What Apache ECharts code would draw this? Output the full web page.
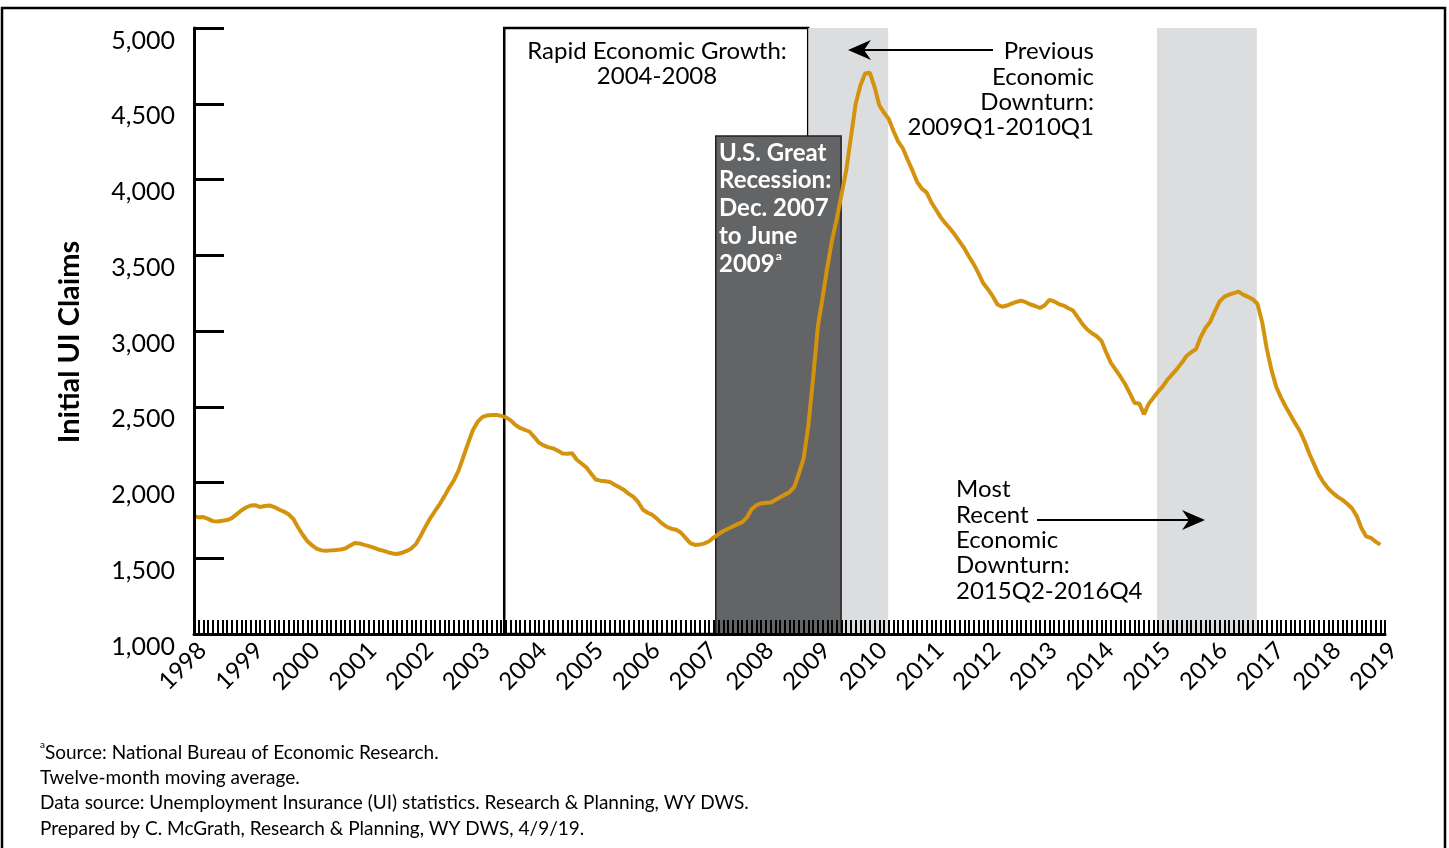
<!DOCTYPE html>
<html>
<head>
<meta charset="utf-8">
<script src="https://cdn.jsdelivr.net/npm/echarts@6/dist/echarts.min.js"></script>
<style>html,body{margin:0;padding:0;background:#fff;}#c{width:1449px;height:848px;}</style>
</head>
<body>
<div id="c"></div>
<script>
// ---- data ----
const startYear = 1998;
const endYear = 2019;
const yTicks = [1000, 1500, 2000, 2500, 3000, 3500, 4000, 4500, 5000];
// Twelve-month moving average of initial UI claims, monthly from Jan 1998
const claims = [
  1775,1770,1772,1760,1745,1742,1748,1752,1765,1790,1815,1835,
  1848,1850,1838,1845,1848,1838,1822,1808,1790,1760,1705,1655,
  1612,1585,1562,1552,1550,1552,1554,1558,1564,1582,1600,1598,
  1588,1580,1570,1558,1550,1540,1532,1528,1536,1548,1565,1595,
  1650,1710,1765,1812,1858,1910,1965,2015,2080,2170,2260,2345,
  2400,2432,2443,2445,2446,2440,2430,2410,2380,2360,2348,2335,
  2300,2262,2245,2232,2225,2210,2192,2190,2193,2150,2125,2100,
  2060,2020,2012,2008,2004,1985,1968,1950,1925,1905,1870,1820,
  1800,1786,1760,1730,1708,1695,1688,1670,1635,1600,1588,1590,
  1598,1612,1638,1660,1680,1695,1710,1725,1738,1770,1825,1850,
  1862,1866,1868,1885,1903,1920,1936,1970,2060,2160,2380,2690,
  3030,3220,3420,3600,3740,3900,4060,4280,4500,4620,4700,4705,
  4610,4490,4440,4400,4320,4250,4205,4130,4060,3985,3940,3915,
  3850,3800,3750,3710,3675,3635,3590,3545,3490,3440,3380,3315,
  3275,3230,3175,3160,3168,3180,3192,3200,3190,3175,3165,3152,
  3170,3205,3195,3178,3168,3150,3135,3090,3045,3010,2985,2965,
  2935,2860,2790,2745,2700,2650,2590,2525,2522,2450,2520,2560,
  2600,2635,2680,2715,2750,2790,2835,2860,2880,2960,3020,3060,
  3130,3195,3225,3240,3250,3260,3240,3225,3210,3180,3060,2880,
  2740,2630,2560,2500,2445,2390,2340,2270,2190,2120,2050,2000,
  1960,1930,1905,1885,1860,1830,1780,1700,1645,1635,1610,1590
];
// shaded periods as drawn (fractional years)
const growthBox = [2003.47, 2008.83, 5000];
const recessionBox = [2007.2, 2009.41, 4287];
const prevDownturn = [2008.83, 2010.24];
const recentDownturn = [2014.98, 2016.74];

const seriesData = claims.map((v, i) => [startYear + i / 12, v]);

const FONT = 'Lato';
const chart = echarts.init(document.getElementById('c'), null, {renderer: 'canvas'});
const option = {
  backgroundColor: '#fff',
  animation: false,
  grid: {left: 194, right: 64, top: 28, bottom: 214, containLabel: false},
  xAxis: {
    type: 'value', min: startYear, max: endYear, interval: 1, z: 10,
    axisLine: {show: true, lineStyle: {color: '#000', width: 3}},
    axisTick: {show: true, inside: true, length: 14, lineStyle: {color: '#000', width: 2}},
    minorTick: {show: true, splitNumber: 12, length: 14, lineStyle: {color: '#000', width: 2}},
    splitLine: {show: false},
    axisLabel: {rotate: 45, fontSize: 24, color: '#000', fontFamily: FONT, margin: 4,
      verticalAlign: 'top',
      formatter: v => String(v)}
  },
  yAxis: {
    type: 'value', min: yTicks[0], max: yTicks[yTicks.length - 1], interval: 500, z: 10,
    axisLine: {show: true, lineStyle: {color: '#000', width: 3}},
    axisTick: {show: true, inside: true, length: 30, lineStyle: {color: '#000', width: 3}},
    splitLine: {show: false},
    axisLabel: {fontSize: 25, color: '#000', fontFamily: FONT, margin: 19,
      verticalAlign: 'top',
      formatter: v => v.toLocaleString('en-US')}
  },
  series: [
    {
      type: 'line', data: [], z: 1, silent: true,
      markArea: {
        silent: true,
        data: [
          [{xAxis: growthBox[0], yAxis: 1000, itemStyle: {color: '#fff', borderColor: '#000', borderWidth: 2.5}},
           {xAxis: growthBox[1], yAxis: growthBox[2]}],
          [{xAxis: prevDownturn[0], yAxis: 1000, itemStyle: {color: '#dcddde'}},
           {xAxis: prevDownturn[1], yAxis: 5000}],
          [{xAxis: recentDownturn[0], yAxis: 1000, itemStyle: {color: '#dcddde'}},
           {xAxis: recentDownturn[1], yAxis: 5000}],
          [{xAxis: recessionBox[0], yAxis: 1000, itemStyle: {color: '#636466', borderColor: '#231f20', borderWidth: 1.5}},
           {xAxis: recessionBox[1], yAxis: recessionBox[2]}]
        ]
      }
    },
    {
      type: 'line', data: seriesData, z: 5, showSymbol: false, symbol: 'none',
      lineStyle: {color: '#d4930f', width: 4}
    }
  ],
  graphic: [
    {type: 'rect', shape: {x: 2, y: 8, width: 1443, height: 900}, style: {fill: 'none', stroke: '#000', lineWidth: 2.5}, z: 100},
    {type: 'text', x: 70, y: 342, rotation: Math.PI / 2,
      style: {text: 'Initial UI Claims', font: 'bold 29px ' + FONT, fill: '#000', textAlign: 'center', textVerticalAlign: 'middle'}, z: 100},
    {type: 'text', x: 657, y: 39,
      style: {text: 'Rapid Economic Growth:\n2004-2008', font: '24px ' + FONT, lineHeight: 25, fill: '#000', textAlign: 'center', textVerticalAlign: 'top'}, z: 100},
    {type: 'text', x: 1094, y: 39,
      style: {text: 'Previous\nEconomic\nDownturn:\n2009Q1-2010Q1', font: '24px ' + FONT, lineHeight: 25.3, fill: '#000', textAlign: 'right', textVerticalAlign: 'top'}, z: 100},
    {type: 'text', x: 956, y: 477,
      style: {text: 'Most\nRecent\nEconomic\nDownturn:\n2015Q2-2016Q4', font: '24px ' + FONT, lineHeight: 25.3, fill: '#000', textAlign: 'left', textVerticalAlign: 'top'}, z: 100},
    {type: 'text', x: 719, y: 139,
      style: {
        text: '{b|U.S. Great}\n{b|Recession:}\n{b|Dec. 2007}\n{b|to June}\n{b|2009}{s|a}',
        fill: '#fff', textAlign: 'left', textVerticalAlign: 'top',
        rich: {
          b: {fontFamily: FONT, fontWeight: 'bold', fontSize: 24, fill: '#fff', lineHeight: 27.8},
          s: {fontFamily: FONT, fontWeight: 'bold', fontSize: 12, fill: '#fff', lineHeight: 27.8, verticalAlign: 'top', padding: [0, 0, 12, 1]}
        }
      }, z: 100},
    // previous downturn arrow
    {type: 'line', shape: {x1: 993, y1: 50, x2: 860, y2: 50}, style: {stroke: '#000', lineWidth: 2}, z: 100},
    {type: 'polygon', shape: {points: [[848, 50], [871, 40], [864, 50], [871, 60]]}, style: {fill: '#000'}, z: 100},
    // recent downturn arrow
    {type: 'line', shape: {x1: 1037, y1: 520, x2: 1195, y2: 520}, style: {stroke: '#000', lineWidth: 2}, z: 100},
    {type: 'polygon', shape: {points: [[1205, 520], [1182, 510], [1189, 520], [1182, 530]]}, style: {fill: '#000'}, z: 100},
    // footnotes
    {type: 'text', x: 40, y: 740,
      style: {
        text: '{s|a}{t|Source: National Bureau of Economic Research.}\n{t|Twelve-month moving average.}\n{t|Data source: Unemployment Insurance (UI) statistics. Research & Planning, WY DWS.}\n{t|Prepared by C. McGrath, Research & Planning, WY DWS, 4/9/19.}',
        textAlign: 'left', textVerticalAlign: 'top',
        rich: {
          t: {fontFamily: FONT, fontSize: 19, fill: '#000', lineHeight: 25.3},
          s: {fontFamily: FONT, fontSize: 10, fill: '#000', lineHeight: 25.3, verticalAlign: 'top', padding: [0, 0, 8, 0]}
        }
      }, z: 100}
  ]
};
chart.setOption(option);
</script>
</body>
</html>
